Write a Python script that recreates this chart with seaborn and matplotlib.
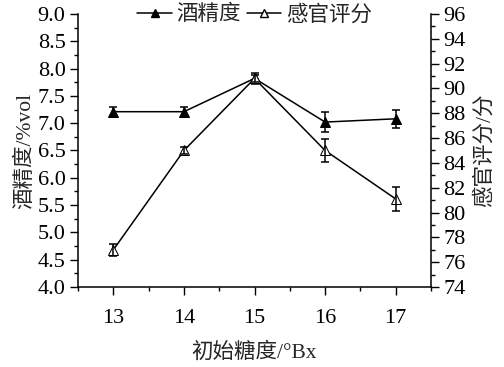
import matplotlib
matplotlib.use("Agg")
import matplotlib.pyplot as plt
from matplotlib.ticker import MultipleLocator, FormatStrFormatter
from matplotlib.lines import Line2D
import seaborn as sns
import pandas as pd

sugar = [13, 14, 15, 16, 17]
alcohol = [7.21, 7.21, 7.82, 7.02, 7.08]
alcohol_err = [0.09, 0.09, 0.10, 0.19, 0.16]
sensory = [77.0, 85.0, 90.8, 85.0, 81.1]
sensory_err = [0.5, 0.25, 0.3, 0.9, 0.95]

sns.set_style("ticks")
plt.rcParams['font.family'] = ['Liberation Serif', 'Noto Sans CJK SC']
FS = 16
plt.rcParams['font.size'] = FS
plt.rcParams['axes.unicode_minus'] = False

df = pd.DataFrame({"sugar": sugar, "alcohol": alcohol, "sensory": sensory})

fig = plt.figure(figsize=(5.04, 3.67), dpi=100)
ax = fig.add_axes([0.155, 0.218, 0.70, 0.744])
ax2 = ax.twinx()

sns.lineplot(data=df, x="sugar", y="alcohol", ax=ax, color="black", lw=1.1,
             marker="^", markersize=7, markerfacecolor="black", markeredgecolor="black")
ax.errorbar(sugar, alcohol, yerr=alcohol_err, fmt="none", ecolor="black", elinewidth=1.1, capsize=3, capthick=1.1)
sns.lineplot(data=df, x="sugar", y="sensory", ax=ax2, color="black", lw=1.1,
             marker="^", markersize=7, markerfacecolor="white", markeredgecolor="black")
ax2.errorbar(sugar, sensory, yerr=sensory_err, fmt="none", ecolor="black", elinewidth=1.1, capsize=3, capthick=1.1)

ax.set_xlim(12.5, 17.5)
ax.set_ylim(4.0, 9.0)
ax2.set_ylim(74, 96)
ax.xaxis.set_major_locator(MultipleLocator(1))
ax.xaxis.set_minor_locator(MultipleLocator(0.5))
ax.yaxis.set_major_locator(MultipleLocator(0.5))
ax.yaxis.set_minor_locator(MultipleLocator(0.25))
ax2.yaxis.set_major_locator(MultipleLocator(2))
ax2.yaxis.set_minor_locator(MultipleLocator(1))
ax.yaxis.set_major_formatter(FormatStrFormatter('%.1f'))

for a in (ax, ax2):
    a.spines['top'].set_visible(False)
    for s in a.spines.values():
        s.set_linewidth(1.1)
        s.set_color("black")
    a.tick_params(which='major', direction='out', length=6, width=1.0, colors='black', labelsize=FS, pad=3)
    a.tick_params(which='minor', direction='out', length=3, width=1.0, colors='black')
ax.tick_params(axis='x', which='major', pad=10)
ax.spines['right'].set_visible(False)
ax2.spines['left'].set_visible(False)
ax2.spines['bottom'].set_visible(False)
ax2.spines['right'].set_visible(True)

ax.set_xlabel("初始糖度/°Bx", fontsize=15.5, labelpad=10)
ax.set_ylabel("酒精度/%vol", fontsize=15.5, labelpad=2)
ax2.set_ylabel("感官评分/分", fontsize=15.5, labelpad=6)

handles = [
    Line2D([], [], color="black", lw=1.1, marker="^", markersize=6, markerfacecolor="black"),
    Line2D([], [], color="black", lw=1.1, marker="^", markersize=6, markerfacecolor="white"),
]
ax.legend(handles, ["酒精度", "感官评分"], loc="upper center", bbox_to_anchor=(0.5, 1.065),
          ncol=2, frameon=False, fontsize=15.5, handlelength=1.6, handletextpad=0.2,
          columnspacing=0.3, borderaxespad=0)

fig.savefig("out.png", dpi=100)
